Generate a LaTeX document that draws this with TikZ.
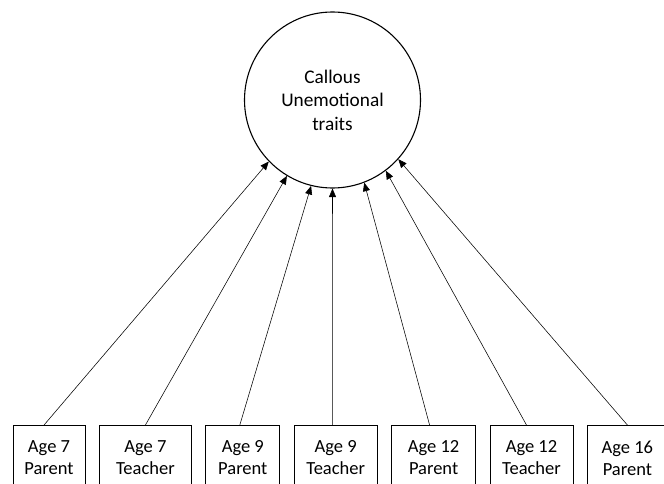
\documentclass[tikz,border=0pt]{standalone}
\usepackage{fontspec}
\setmainfont{Carlito}
\usetikzlibrary{positioning}
\usetikzlibrary{arrows.meta}

\begin{document}
\begin{tikzpicture} [ x=1pt, y=1pt
								, node distance =13.5pt
								, merkmal/.style={circle, minimum size=176pt, inner sep=0pt, line width=1.1pt, draw, align=center, font=\fontsize{19.3}{23.5}\selectfont}
								, kasten/.style={rectangle, minimum height=65pt, inner sep=2pt, line width=0.9pt, draw, align=center, font=\fontsize{18.5}{22}\selectfont}
								, pfeil/.style ={draw, line width=0.55pt, arrows={-Triangle[length=8.5pt, width=7pt]}}
								]
	\path [use as bounding box, clip] (0,0) rectangle (664,483);

	\node (CU) 			[merkmal] at (332.5,383) {Callous\\Unemotional\\traits};

	\node (A7P) 		[kasten, minimum width=72pt] at (49,25) {Age 7\\Parent};
	\node (A7T) 		[kasten, minimum width=92pt, right=of A7P] {Age 7\\Teacher};
	\node (A9P) 		[kasten, minimum width=74pt, right=of A7T] {Age 9\\Parent};
	\node (A9T) 		[kasten, minimum width=83pt, right=of A9P] {Age 9\\Teacher};
	\node (A12P) 		[kasten, minimum width=84pt, right=of A9T] {Age 12\\Parent};
	\node (A12T) 		[kasten, minimum width=83pt, right=of A12P] {Age 12\\Teacher};
	\node (A16P) 		[kasten, minimum width=80pt, right=of A12T] {Age 16\\Parent};

	\draw [pfeil] ([xshift=-5pt]A7P.north) -- (CU.-136);
	\draw [pfeil] (A7T.north) -- (CU.-121);
	\draw [pfeil] ([xshift=-3pt]A9P.north) -- (CU.-104);
	\draw [pfeil] ([xshift=-3pt]A9T.north) -- (CU.-90);
	\draw [pfeil] ([xshift=-4pt]A12P.north) -- (CU.-69);
	\draw [pfeil] ([xshift=-5pt]A12T.north) -- (CU.-53);
	\draw [pfeil] (A16P.north) -- (CU.-42);

\end{tikzpicture}
\end{document}
